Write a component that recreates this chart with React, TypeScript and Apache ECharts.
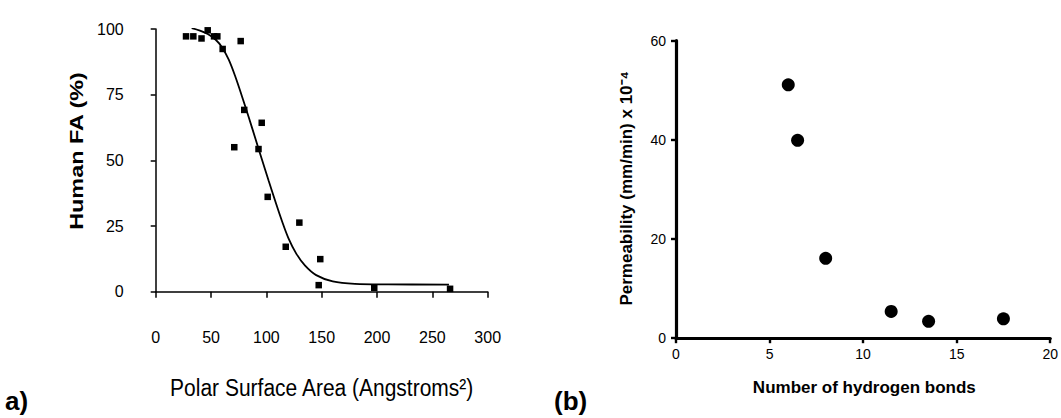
import React, { useEffect, useRef } from "react";
import * as echarts from "echarts";

// Panel a) — Human fractional absorption vs polar surface area
const faPsa = [27.4, 34, 41.4, 47, 52.7, 55.7, 56.9, 60.5, 76.8, 80, 95.8, 71, 92.9, 101.2, 129.8, 117.5, 148.7, 147.3, 197.5, 266];
const faValue = [97.2, 97.2, 96.4, 99.5, 97.2, 97.2, 100.3, 92.4, 95.4, 69.2, 64.3, 55, 54.3, 36.1, 26.3, 17.1, 12.4, 2.5, 1.5, 1.1];
// fitted sigmoid curve
const fitPsa = [32.5, 40, 47, 54, 60, 66, 72, 78, 84, 90, 96, 102, 108, 114, 120, 127, 135, 145, 160, 180, 210, 265];
const fitValue = [100.3, 99.4, 98.1, 96.0, 93.0, 88.3, 81.8, 74.3, 66.5, 58.4, 50.3, 42.3, 34.5, 27.0, 20.3, 14.5, 9.9, 6.3, 3.9, 3.0, 2.8, 2.7];
const psaAxis = { min: 0, max: 300, interval: 50 };
const faAxis = { min: 0, max: 100, interval: 25 };

// Panel (b) — permeability vs number of hydrogen bonds
const hBonds = [6, 6.5, 8, 11.5, 13.5, 17.5];
const permeability = [51.1, 39.9, 16.1, 5.4, 3.4, 3.9];
const hbAxis = { min: 0, max: 20, interval: 5 };
const permAxis = { min: 0, max: 60, interval: 20 };

const FONT = '"Liberation Sans", Arial, Helvetica, sans-serif';

export default function App() {
  const ref = useRef<HTMLDivElement>(null);

  useEffect(() => {
    document.body.style.margin = "0";
    if (!ref.current) return;
    const chart = echarts.init(ref.current, undefined, { renderer: "svg" });

    chart.setOption({
      animation: false,
      backgroundColor: "#fff",
      grid: [
        { left: 155.7, top: 29, width: 332, height: 262.7 },
        { left: 676, top: 40.7, width: 376.7, height: 297.5 },
      ],
      xAxis: [
        {
          gridIndex: 0,
          type: "value",
          min: psaAxis.min,
          max: psaAxis.max,
          interval: psaAxis.interval,
          offset: 29,
          splitLine: { show: false },
          axisLine: { show: true, lineStyle: { color: "#000", width: 1.5, opacity: 1 } },
          axisTick: { show: true, length: 6, lineStyle: { color: "#000", width: 1.5, opacity: 1 } },
          axisLabel: { fontSize: 16, color: "#000", fontFamily: FONT, margin: 9 },
        },
        {
          gridIndex: 1,
          type: "value",
          min: hbAxis.min,
          max: hbAxis.max,
          interval: hbAxis.interval,
          splitLine: { show: false },
          axisLine: { show: true, lineStyle: { color: "#000", width: 3.2, opacity: 1 } },
          axisTick: { show: true, length: 5, lineStyle: { color: "#000", width: 2.4, opacity: 1 } },
          axisLabel: { fontSize: 14, color: "#000", fontFamily: FONT, margin: 9 },
        },
      ],
      yAxis: [
        {
          gridIndex: 0,
          type: "value",
          min: faAxis.min,
          max: faAxis.max,
          interval: faAxis.interval,
          offset: 24,
          splitLine: { show: false },
          axisLine: { show: true, lineStyle: { color: "#000", width: 1.5, opacity: 1 } },
          axisTick: { show: true, length: 5, lineStyle: { color: "#000", width: 1.5, opacity: 1 } },
          axisLabel: { fontSize: 16, color: "#000", fontFamily: FONT, margin: 8 },
        },
        {
          gridIndex: 1,
          type: "value",
          min: permAxis.min,
          max: permAxis.max,
          interval: permAxis.interval,
          splitLine: { show: false },
          axisLine: { show: true, lineStyle: { color: "#000", width: 3.2, opacity: 1 } },
          axisTick: { show: true, length: 5, lineStyle: { color: "#000", width: 2.4, opacity: 1 } },
          axisLabel: { fontSize: 14, color: "#000", fontFamily: FONT, margin: 10 },
        },
      ],
      series: [
        {
          type: "line",
          xAxisIndex: 0,
          yAxisIndex: 0,
          data: fitPsa.map((x, i) => [x, fitValue[i]]),
          smooth: 0.35,
          showSymbol: false,
          lineStyle: { color: "#000", width: 1.8 },
          z: 2,
        },
        {
          type: "scatter",
          xAxisIndex: 0,
          yAxisIndex: 0,
          data: faPsa.map((x, i) => [x, faValue[i]]),
          symbol: "rect",
          symbolSize: 6.5,
          itemStyle: { color: "#000", opacity: 1 },
          z: 3,
        },
        {
          type: "scatter",
          xAxisIndex: 1,
          yAxisIndex: 1,
          data: hBonds.map((x, i) => [x, permeability[i]]),
          symbol: "circle",
          symbolSize: 13,
          itemStyle: { color: "#000", opacity: 1 },
          z: 3,
        },
      ],
      graphic: [
        {
          type: "text",
          x: 76.7,
          y: 151,
          rotation: Math.PI / 2,
          scaleX: 1.3,
          style: {
            text: "Human FA (%)",
            font: `bold 18px ${FONT}`,
            fill: "#000",
            textAlign: "center",
            textVerticalAlign: "middle",
          },
        },
        {
          type: "text",
          x: 321.7,
          y: 388,
          scaleY: 1.15,
          style: {
            text: "Polar Surface Area (Angstroms²)",
            font: `21px ${FONT}`,
            fill: "#000",
            textAlign: "center",
            textVerticalAlign: "middle",
          },
        },
        {
          type: "text",
          x: 5,
          y: 401,
          style: {
            text: "a)",
            font: `bold 26px ${FONT}`,
            fill: "#000",
            textAlign: "left",
            textVerticalAlign: "middle",
          },
        },
        {
          type: "text",
          x: 554,
          y: 401,
          style: {
            text: "(b)",
            font: `bold 26px ${FONT}`,
            fill: "#000",
            textAlign: "left",
            textVerticalAlign: "middle",
          },
        },
        {
          type: "text",
          x: 626,
          y: 188.3,
          rotation: Math.PI / 2,
          style: {
            text: "Permeability (mm/min) x 10⁻⁴",
            font: `bold 17px ${FONT}`,
            fill: "#000",
            textAlign: "center",
            textVerticalAlign: "middle",
          },
        },
        {
          type: "text",
          x: 864.3,
          y: 387,
          style: {
            text: "Number of hydrogen bonds",
            font: `bold 17px ${FONT}`,
            fill: "#000",
            textAlign: "center",
            textVerticalAlign: "middle",
          },
        },
      ],
    });

    return () => {
      chart.dispose();
    };
  }, []);

  return <div ref={ref} style={{ width: 1061, height: 418 }} />;
}
